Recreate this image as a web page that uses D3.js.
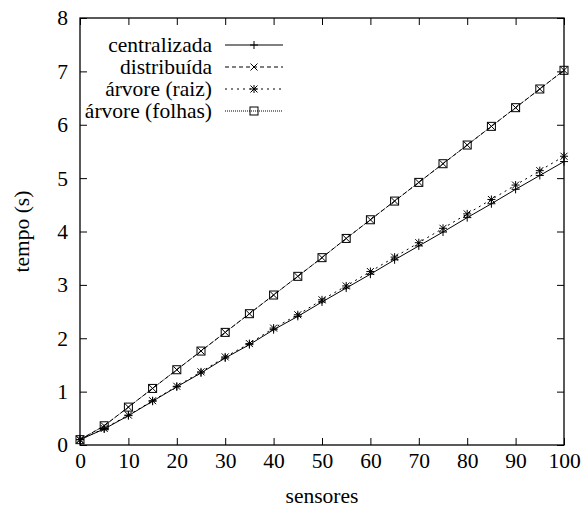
<!DOCTYPE html>
<html>
<head>
<meta charset="utf-8">
<script src="https://cdn.jsdelivr.net/npm/d3@7"></script>
</head>
<body style="margin:0;background:#fff">
<svg id="chart" width="583" height="508" style="display:block"></svg>
<script>
const sensores = [0, 5, 10, 15, 20, 25, 30, 35, 40, 45, 50, 55, 60, 65, 70, 75, 80, 85, 90, 95, 100];
const centralizada = [0.10, 0.30, 0.55, 0.82, 1.09, 1.35, 1.63, 1.88, 2.16, 2.41, 2.68, 2.94, 3.20, 3.47, 3.73, 3.99, 4.26, 4.52, 4.79, 5.05, 5.31];
const distribuida = [0.10, 0.36, 0.71, 1.06, 1.41, 1.76, 2.11, 2.46, 2.81, 3.16, 3.51, 3.87, 4.22, 4.57, 4.92, 5.27, 5.62, 5.97, 6.32, 6.67, 7.02];
const arvoreRaiz = [0.10, 0.31, 0.56, 0.83, 1.10, 1.37, 1.65, 1.90, 2.19, 2.44, 2.72, 2.98, 3.25, 3.52, 3.79, 4.06, 4.33, 4.60, 4.87, 5.14, 5.41];
const arvoreFolhas = [0.10, 0.36, 0.71, 1.06, 1.41, 1.76, 2.11, 2.46, 2.81, 3.16, 3.51, 3.87, 4.22, 4.57, 4.92, 5.27, 5.62, 5.97, 6.32, 6.67, 7.02];
const seriesNames = ["centralizada", "distribuída", "árvore (raiz)", "árvore (folhas)"];
const xTicks = [0, 10, 20, 30, 40, 50, 60, 70, 80, 90, 100];
const yTicks = [0, 1, 2, 3, 4, 5, 6, 7, 8];

const styles = [
  { dash: null, marker: "plus" },
  { dash: "4,3", marker: "cross" },
  { dash: "2,4", marker: "star" },
  { dash: "1,1", marker: "square" }
];
const seriesValues = [centralizada, distribuida, arvoreRaiz, arvoreFolhas];

const FONT = '"Liberation Serif", "Times New Roman", serif';
const svg = d3.select("#chart").attr("font-family", "Liberation Serif");
const L = 80, R = 564, T = 18, B = 445;
const x = d3.scaleLinear().domain([0, 100]).range([L, R]);
const y = d3.scaleLinear().domain([0, 8]).range([B, T]);
const fs = 21.5;
const tick = 7;

const gB = svg.append("g").attr("transform", `translate(0,${B})`)
  .call(d3.axisBottom(x).tickValues(xTicks).tickSizeInner(-tick).tickSizeOuter(0).tickPadding(8));
const gT = svg.append("g").attr("transform", `translate(0,${T})`)
  .call(d3.axisTop(x).tickValues(xTicks).tickSizeInner(-tick).tickSizeOuter(0).tickFormat(""));
const gL = svg.append("g").attr("transform", `translate(${L},0)`)
  .call(d3.axisLeft(y).tickValues(yTicks).tickSizeInner(-tick).tickSizeOuter(0).tickPadding(12));
const gR = svg.append("g").attr("transform", `translate(${R},0)`)
  .call(d3.axisRight(y).tickValues(yTicks).tickSizeInner(-tick).tickSizeOuter(0).tickFormat(""));
[gB, gT, gL, gR].forEach(g => {
  g.attr("font-family", null).attr("font-size", null);
  g.select(".domain").remove();
  g.selectAll("line").attr("stroke", "#000").attr("stroke-width", 1);
  g.selectAll("text").style("font-size", fs + "px").style("font-family", FONT).attr("fill", "#000");
});
gB.selectAll("text").attr("dy", "0.71em");

svg.append("rect").attr("x", L).attr("y", T).attr("width", R - L).attr("height", B - T)
  .attr("fill", "none").attr("stroke", "#000").attr("stroke-width", 1.3);

svg.append("text").attr("x", (L + R) / 2).attr("y", 503).attr("text-anchor", "middle")
  .style("font-size", fs + "px").style("font-family", FONT).text("sensores");
svg.append("text").attr("transform", `translate(29,${(T + B) / 2}) rotate(-90)`)
  .attr("text-anchor", "middle").style("font-size", fs + "px").style("font-family", FONT).text("tempo (s)");

function drawMarker(g, type, cx, cy) {
  const s = 4;
  if (type === "plus" || type === "star") {
    g.append("line").attr("x1", cx - s).attr("x2", cx + s).attr("y1", cy).attr("y2", cy);
    g.append("line").attr("x1", cx).attr("x2", cx).attr("y1", cy - s).attr("y2", cy + s);
  }
  if (type === "cross" || type === "star") {
    const c = 3.5;
    g.append("line").attr("x1", cx - c).attr("x2", cx + c).attr("y1", cy - c).attr("y2", cy + c);
    g.append("line").attr("x1", cx - c).attr("x2", cx + c).attr("y1", cy + c).attr("y2", cy - c);
  }
  if (type === "square") {
    g.append("rect").attr("x", cx - 4).attr("y", cy - 4).attr("width", 8).attr("height", 8).attr("fill", "none");
  }
}

const line = d3.line().x(d => x(d[0])).y(d => y(d[1]));
const plotG = svg.append("g");
seriesValues.forEach((vals, i) => {
  const pts = sensores.map((s, j) => [s, vals[j]]);
  plotG.append("path").datum(pts).attr("d", line).attr("fill", "none")
    .attr("stroke", "#000").attr("stroke-width", 1)
    .attr("stroke-dasharray", styles[i].dash);
  const mg = plotG.append("g").attr("stroke", "#000").attr("stroke-width", 1).attr("fill", "none");
  pts.forEach(p => drawMarker(mg, styles[i].marker, x(p[0]), y(p[1])));
});

const legG = svg.append("g");
seriesNames.forEach((name, i) => {
  const cy = 45 + i * 22;
  legG.append("text").attr("x", 212).attr("y", cy).attr("dy", "0.32em")
    .attr("text-anchor", "end").style("font-size", fs + "px").style("font-family", FONT).text(name);
  legG.append("line").attr("x1", 225).attr("x2", 283).attr("y1", cy).attr("y2", cy)
    .attr("stroke", "#000").attr("stroke-width", 1).attr("stroke-dasharray", styles[i].dash);
  const mg = legG.append("g").attr("stroke", "#000").attr("stroke-width", 1).attr("fill", "none");
  drawMarker(mg, styles[i].marker, 254, cy);
});
</script>
</body>
</html>
